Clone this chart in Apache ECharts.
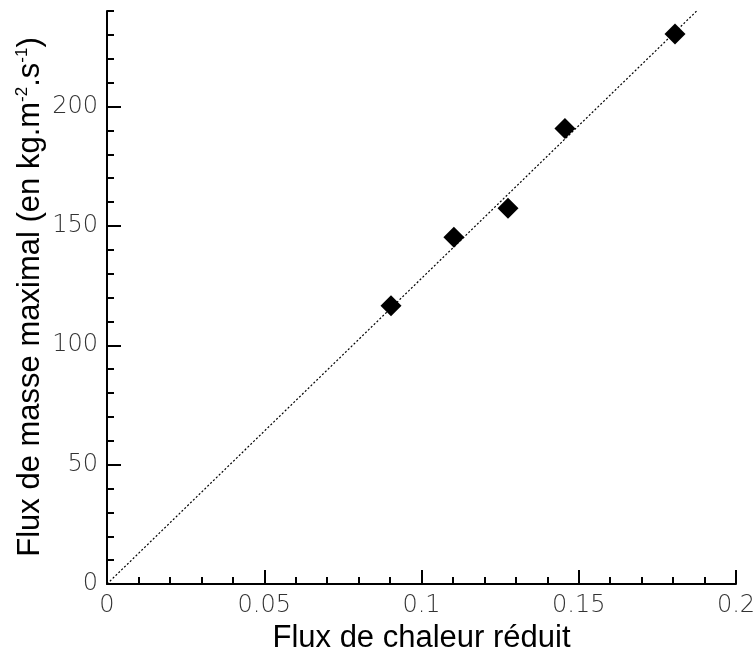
<!DOCTYPE html>
<html>
<head>
<meta charset="utf-8">
<script src="https://cdn.jsdelivr.net/npm/echarts@6/dist/echarts.min.js"></script>
<style>html,body{margin:0;padding:0;background:#fff;}#c{width:755px;height:653px;}</style>
</head>
<body>
<div id="c"></div>
<script>
// Data
var fluxChaleur = [0.0903, 0.1103, 0.1275, 0.1456, 0.1806];
var fluxMasse = [116.5, 145.2, 157.4, 190.8, 230.4];
var fitLineX = [0, 0.1875];
var fitLineY = [0, 240];
var xTickValues = [0, 0.05, 0.1, 0.15, 0.2];
var yTickValues = [0, 50, 100, 150, 200];
var xTitle = 'Flux de chaleur réduit';

var chart = echarts.init(document.getElementById('c'), null, {renderer: 'canvas'});
var labelFont = {fontFamily: 'DejaVu Sans', fontWeight: 200, fontSize: 24, color: '#333'};
var option = {
  animation: false,
  backgroundColor: '#fff',
  grid: {left: 107, right: 19, top: 11, bottom: 69, containLabel: false, outerBoundsMode: 'none'},
  xAxis: {
    type: 'value', min: 0, max: 0.2, interval: 0.05,
    axisLine: {show: true, lineStyle: {color: '#000', width: 2}},
    axisTick: {show: true, inside: true, length: 14, lineStyle: {color: '#000', width: 2}},
    minorTick: {show: true, splitNumber: 5, length: 7, lineStyle: {color: '#000', width: 2}},
    splitLine: {show: false},
    axisLabel: Object.assign({margin: 10, formatter: function(v){return String(+v.toFixed(2));}}, labelFont),
    name: xTitle, nameLocation: 'middle', nameGap: 38,
    nameTextStyle: {fontFamily: 'Liberation Sans', fontSize: 31, color: '#000'}
  },
  yAxis: [{
    type: 'value', min: 0, max: 240, interval: 50,
    axisLine: {show: true, lineStyle: {color: '#000', width: 2}},
    axisTick: {show: true, inside: true, length: 14, customValues: yTickValues, lineStyle: {color: '#000', width: 2}},
    splitLine: {show: false},
    axisLabel: Object.assign({margin: 9, customValues: yTickValues}, labelFont)
  }, {
    type: 'value', min: 0, max: 240, interval: 10, position: 'left',
    axisLine: {show: false},
    axisTick: {show: true, inside: true, length: 7, lineStyle: {color: '#000', width: 2}},
    splitLine: {show: false},
    axisLabel: {show: false}
  }],
  graphic: [{
    type: 'text', x: 30, y: 297, rotation: Math.PI / 2,
    style: {
      text: '{t|Flux de masse maximal (en kg.m}{s|-2}{t|.s}{s|-1}{t|)}',
      align: 'center', verticalAlign: 'middle',
      rich: {
        t: {fontFamily: 'Liberation Sans', fontSize: 31, fill: '#000', lineHeight: 36},
        s: {fontFamily: 'Liberation Sans', fontSize: 17, fill: '#000', lineHeight: 36, padding: [0, 0, 16, 0]}
      }
    }
  }],
  series: [{
    type: 'line',
    data: fitLineX.map(function(x, i){return [x, fitLineY[i]];}),
    symbol: 'none',
    lineStyle: {color: '#000', width: 1.2, type: [2, 2]},
    z: 1
  }, {
    type: 'scatter',
    data: fluxChaleur.map(function(x, i){return [x, fluxMasse[i]];}),
    symbol: 'diamond', symbolSize: 21,
    itemStyle: {color: '#000', opacity: 1},
    z: 2
  }]
};
chart.setOption(option);
</script>
</body>
</html>
